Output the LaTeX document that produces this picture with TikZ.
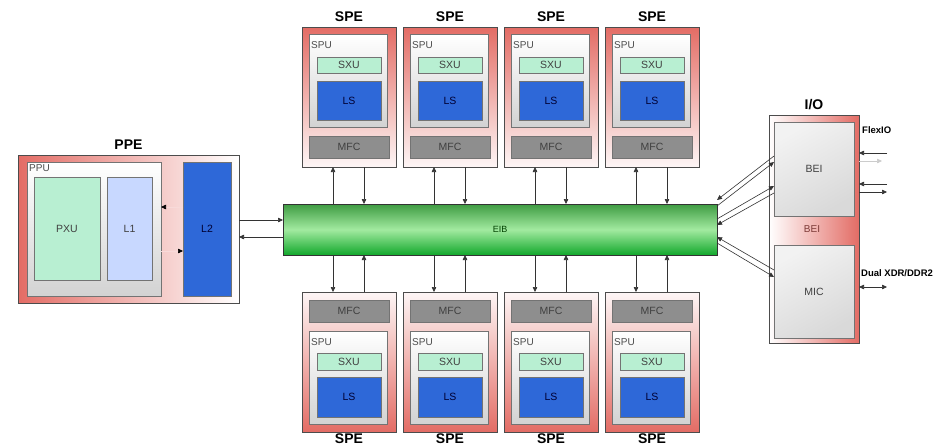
\documentclass[tikz,border=0pt]{standalone}
\usepackage{fontspec}
\setmainfont{Liberation Sans}
\usetikzlibrary{arrows.meta}

\definecolor{framered}{HTML}{E36C65}
\definecolor{lsblue}{HTML}{2E68D8}
\definecolor{sxugreen}{HTML}{B8EFD2}
\definecolor{mfcgray}{HTML}{8E8E8E}
\definecolor{lonelight}{HTML}{C8D8FF}
\definecolor{eibdark}{HTML}{3E9B42}
\definecolor{eiblight}{HTML}{A2EAA0}
\definecolor{eiblow}{HTML}{12A82C}

\begin{document}
\begin{tikzpicture}[x=1pt,y=-1pt,
    >={Triangle[length=5pt,width=4.5pt]},
    box/.style={draw=black!70,line width=0.7pt,inner sep=0pt,outer sep=0pt,anchor=north west},
    unit/.style={box,draw=black!55,line width=0.5pt,font=\fontsize{10.5}{10.5}\selectfont,text=black!75},
    glass/.style={top color=white,bottom color=gray!35},
    title/.style={font=\fontsize{14}{14}\selectfont\bfseries},
    tag/.style={font=\fontsize{10}{10}\selectfont,text=black!70,anchor=west,inner sep=0pt},
    side/.style={font=\fontsize{9.5}{9.5}\selectfont\bfseries,anchor=west,inner sep=0pt},
    link/.style={draw=black!80,line width=0.6pt,->},
    ghost/.style={draw=framered!25,line width=0.6pt,-{Triangle[length=5pt,width=4.5pt,black]}}]

    \fill[white] (0,0) rectangle (947,445);
    \useasboundingbox (0,0) rectangle (947,445);

    \node[box,draw=black!80,minimum width=434pt,minimum height=51pt,
          top color=eibdark,bottom color=eiblow,middle color=eiblight] (eib) at (283,204) {};
    \node[font=\fontsize{9}{9}\selectfont,text=green!25!black] at (eib.center) {EIB};

    \node[box,minimum width=221pt,minimum height=148pt,left color=framered,right color=white] (ppe) at (18,155) {};
    \node[title] at ([yshift=10pt]ppe.north) {PPE};
    \node[box,draw=black!55,minimum width=134pt,minimum height=134pt,glass] (ppu) at (27,162) {};
    \node[tag] at ([shift={(2pt,-6pt)}]ppu.north west) {PPU};
    \node[unit,fill=sxugreen,minimum width=66pt,minimum height=103pt] (pxu) at (34,177) {PXU};
    \node[unit,fill=lonelight,minimum width=45pt,minimum height=103pt] (lone) at (107,177) {L1};
    \node[unit,fill=lsblue,text=blue!20!black,minimum width=48pt,minimum height=134pt] (ltwo) at (183,162) {L2};
    \draw[ghost] ([yshift=22pt]ltwo.west) -- ([yshift=22pt]ltwo.west -| ppu.east);
    \draw[ghost] ([yshift=-22pt]ppu.east) -- ([yshift=-22pt]ppu.east -| ltwo.west);

    \coordinate (pa) at ([yshift=9pt]ppe.east);
    \coordinate (pb) at ([yshift=-8pt]ppe.east);
    \draw[link] (pa) -- (pa -| eib.west);
    \draw[link] (pb -| eib.west) -- (pb);

    \foreach \i in {0,...,3}{
        \pgfmathsetmacro\xo{302+101*\i}
        % upper row
        \node[box,minimum width=94pt,minimum height=140pt,top color=framered,bottom color=framered!6] (tspe\i) at (\xo,27) {};
        \node[title] at ([yshift=10pt]tspe\i.north) {SPE};
        \node[box,draw=black!55,minimum width=78pt,minimum height=93pt,glass] (tspu\i) at (\xo+7,34) {};
        \node[tag] at ([shift={(2pt,-11pt)}]tspu\i.north west) {SPU};
        \node[unit,fill=sxugreen,minimum width=64pt,minimum height=16pt] (tsxu\i) at (\xo+15,57) {SXU};
        \node[unit,fill=lsblue,text=blue!20!black,minimum width=64pt,minimum height=39pt] (tls\i) at (\xo+15,81) {LS};
        \node[unit,fill=mfcgray,minimum width=80pt,minimum height=22pt] (tmfc\i) at (\xo+7,136) {MFC};
        \coordinate (tl\i) at ([xshift=-16pt]tspe\i.south);
        \coordinate (tr\i) at ([xshift=15pt]tspe\i.south);
        \draw[link] (tl\i |- eib.north) -- (tl\i);
        \draw[link] (tr\i) -- (tr\i |- eib.north);
        % lower row
        \node[box,minimum width=94pt,minimum height=140pt,top color=framered!6,bottom color=framered] (bspe\i) at (\xo,292) {};
        \node[title] at ([yshift=-6.5pt]bspe\i.south) {SPE};
        \node[unit,fill=mfcgray,minimum width=80pt,minimum height=22pt] (bmfc\i) at (\xo+7,300) {MFC};
        \node[box,draw=black!55,minimum width=78pt,minimum height=93pt,glass] (bspu\i) at (\xo+7,331) {};
        \node[tag] at ([shift={(2pt,-11pt)}]bspu\i.north west) {SPU};
        \node[unit,fill=sxugreen,minimum width=64pt,minimum height=17pt] (bsxu\i) at (\xo+15,353) {SXU};
        \node[unit,fill=lsblue,text=blue!20!black,minimum width=64pt,minimum height=40pt] (bls\i) at (\xo+15,377) {LS};
        \coordinate (bl\i) at ([xshift=-16pt]bspe\i.north);
        \coordinate (br\i) at ([xshift=15pt]bspe\i.north);
        \draw[link] (bl\i |- eib.south) -- (bl\i);
        \draw[link] (br\i) -- (br\i |- eib.south);
    }

    \node[box,minimum width=90pt,minimum height=228pt,left color=white,right color=framered] (io) at (769,115) {};
    \node[title] at ([yshift=10pt]io.north) {I/O};
    \node[unit,minimum width=80pt,minimum height=94pt,top color=gray!10,bottom color=gray!30,shading angle=30] (bei) at (774,122) {BEI};
    \node[unit,minimum width=80pt,minimum height=93pt,top color=gray!10,bottom color=gray!30,shading angle=30] (mic) at (774,245) {MIC};
    \node[font=\fontsize{10}{10}\selectfont,text=framered!55!black] at (812,229) {BEI};

    \draw[link] ([yshift=13pt]bei.west) -- ([yshift=29.5pt]eib.east);
    \draw[link] ([yshift=23.5pt]eib.east) -- ([yshift=7pt]bei.west);
    \draw[link] ([yshift=10.5pt]eib.east) -- ([yshift=-17pt]bei.west);
    \draw[link] ([yshift=-24pt]bei.west) -- ([yshift=4.5pt]eib.east);
    \draw[link] ([yshift=21.5pt]mic.west) -- ([yshift=-7.5pt]eib.east);
    \draw[link] ([yshift=-13.5pt]eib.east) -- ([yshift=14.5pt]mic.west);

    \node[side] at (862,130) {FlexIO};
    \coordinate (fa) at (887,153);
    \coordinate (fb) at (882,161);
    \coordinate (fc) at (887,184);
    \coordinate (fd) at (887,192);
    \draw[link] (fa) -- (fa -| io.east);
    \draw[link,draw=black!20] (fb -| io.east) -- (fb);
    \draw[link] (fc) -- (fc -| io.east);
    \draw[link] (fd -| io.east) -- (fd);

    \node[side] at (861,273) {Dual XDR/DDR2};
    \coordinate (da) at (887,287);
    \draw[link,<->] (da -| io.east) -- (da);
\end{tikzpicture}
\end{document}
